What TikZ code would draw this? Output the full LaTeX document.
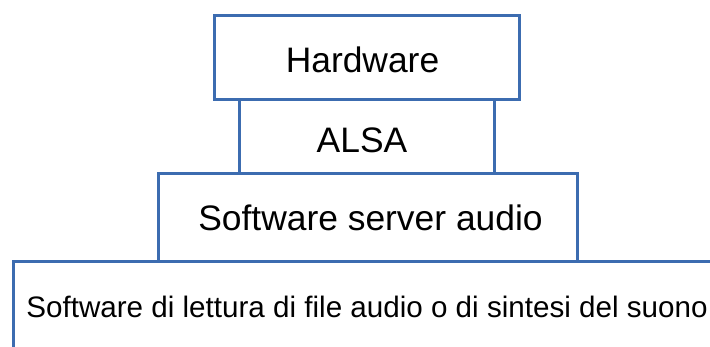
\documentclass[tikz,border=0pt]{standalone}
\usepackage{fontspec}
\setmainfont{Liberation Sans}
\definecolor{layerblue}{RGB}{60,108,176}
\begin{document}
\begin{tikzpicture}[x=1pt,y=-1pt,
  layer/.style={draw=layerblue, line width=3pt, fill=white, inner sep=0pt, outer sep=0pt},
  caption/.style={anchor=base, inner sep=0pt, text=black, font=\fontsize{35.4}{40}\selectfont},
  smallcaption/.style={caption, font=\fontsize{29.6}{34}\selectfont}]
\useasboundingbox (0,0) rectangle (710,346);
\clip (0,0) rectangle (710,346);
% layer boxes, bottom first so the upper boxes sit on its edge
\node[layer, minimum width=708pt, minimum height=90pt] (app) at (367,306) {};
\node[layer, minimum width=419pt, minimum height=88pt] (server) at (367.5,217) {};
\node[layer, minimum width=255pt, minimum height=74pt] (alsa) at (366.5,136) {};
\node[layer, minimum width=305pt, minimum height=84pt] (hw) at (366.5,57) {};
% layer names, placed on their baselines
\node[smallcaption] (apptext) at (367,317) {Software di lettura di file audio o di sintesi del suono};
\node[caption] (servertext) at (370.5,230) {Software server audio};
\node[caption] (alsatext) at (362,152) {ALSA};
\node[caption] (hwtext) at (362.5,72) {Hardware};
\end{tikzpicture}
\end{document}
